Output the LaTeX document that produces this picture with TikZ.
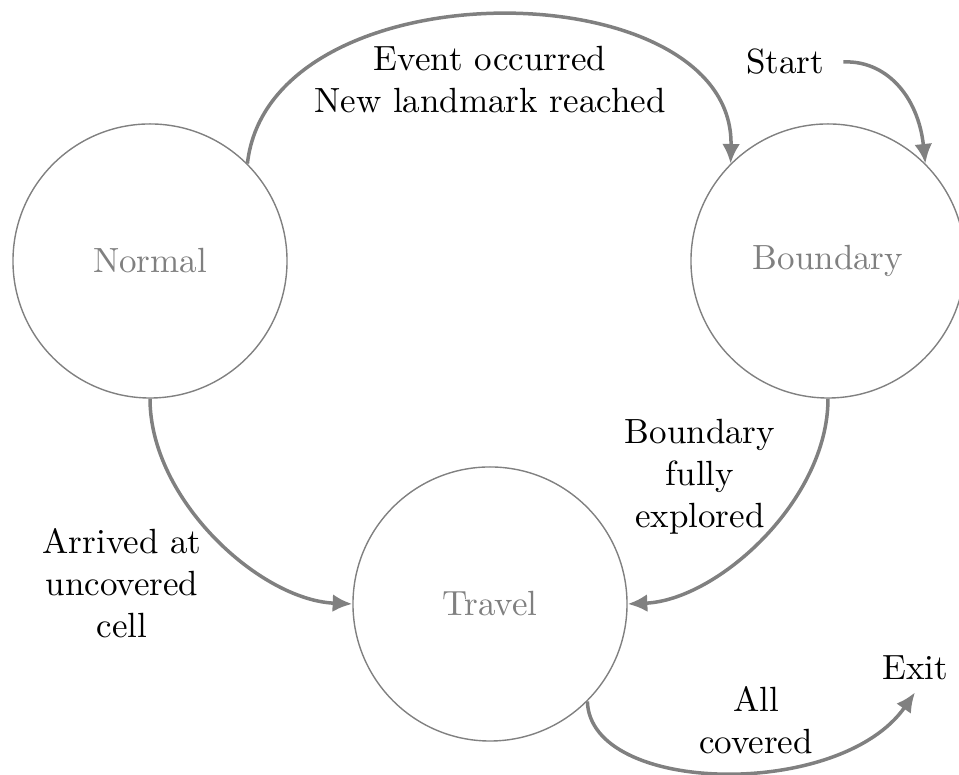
\documentclass[tikz,border=0pt]{standalone}
\usetikzlibrary{arrows.meta}
\begin{document}
\begin{tikzpicture}[x=0.2857pt,y=0.2857pt,
  state/.style={circle,draw=gray,line width=0.4pt,minimum size=78.3pt,inner sep=0pt,text=gray},
  trans/.style={draw=gray,line width=1pt,-{Latex[length=5.6pt,width=5.1pt]}},
  lbl/.style={align=center,text=black}]
\clip (0,0) rectangle (959,775);
\useasboundingbox (0,0) rectangle (959,775);
\node[state] (normal) at (150,514) {Normal};
\node[state] (boundary) at (828,514) {Boundary};
\node[state] (travel) at (490,171) {Travel};
\node (start) at (785,713) {Start};
\node (exit) at (915,107) {Exit};
\node[lbl] (l1) at (490,695) {Event occurred\\New landmark reached};
\node[lbl] (l2) at (122,192) {Arrived at\\uncovered\\cell};
\node[lbl] (l3) at (700,298) {Boundary\\fully\\explored};
\node[lbl] (l4) at (756,55) {All\\covered};
\draw[trans] (normal.45) .. controls (270,812) and (735,806) .. (boundary.135);
\draw[trans] ([xshift=2pt]start.east) .. controls (885,715) and (918,680) .. (boundary.45);
\draw[trans] (normal.south) .. controls (150,275) and (260,175) .. (travel.west);
\draw[trans] (boundary.south) .. controls (828,275) and (718,175) .. (travel.east);
\draw[trans] (travel.-45) .. controls (590,-20) and (840,-25) .. (exit.south);
\end{tikzpicture}
\end{document}
